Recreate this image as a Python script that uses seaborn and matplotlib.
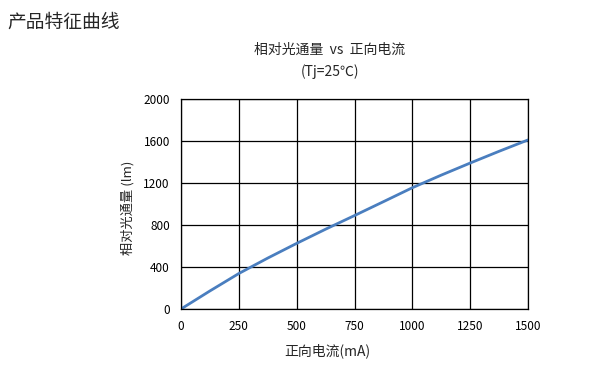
import matplotlib
matplotlib.use("Agg")
import matplotlib.pyplot as plt
import seaborn as sns
import pandas as pd

current_ma = [0, 125, 250, 375, 500, 625, 750, 875, 1000, 1125, 1250, 1375, 1500]
flux_lm = [0, 172, 338, 485, 625, 760, 890, 1022, 1155, 1275, 1390, 1502, 1610]
x_ticks = [0, 250, 500, 750, 1000, 1250, 1500]
y_ticks = [0, 400, 800, 1200, 1600, 2000]

sns.set_style("white")
plt.rcParams['font.family'] = ['Noto Sans CJK SC', 'DejaVu Sans']

df = pd.DataFrame({"current": current_ma, "flux": flux_lm})

fig = plt.figure(figsize=(6.07, 3.78), dpi=100)
ax = fig.add_axes([181/607, 1-309/378, 347/607, 210/378])
sns.lineplot(data=df, x="current", y="flux", ax=ax, color="#4A7EBF", linewidth=2.0)

ax.set_xlim(0, 1500)
ax.set_ylim(0, 2000)
ax.set_xticks(x_ticks)
ax.set_yticks(y_ticks)
ax.set_xticklabels([str(v) for v in x_ticks], fontsize=8.5)
ax.set_yticklabels([str(v) for v in y_ticks], fontsize=8.5)
ax.tick_params(length=0, pad=8, colors="black")
ax.grid(True, color="black", linewidth=0.9)
for s in ax.spines.values():
    s.set_color("black")
    s.set_linewidth(0.9)
ax.set_xlabel("")
ax.set_ylabel("")

fig.text(327/607, 1-351/378, "正向电流(mA)", fontsize=10, ha="center", va="center")
fig.text(128/607, 1-208/378, "相对光通量 (lm)", fontsize=9.5, ha="center", va="center", rotation=90)

fig.text(7/607, 1-22/378, "产品特征曲线", fontsize=13.5, ha="left", va="center")
fig.text(330/607, 1-50/378, "相对光通量  vs  正向电流", fontsize=10, ha="center", va="center")
fig.text(330/607, 1-72/378, "(Tj=25℃)", fontsize=10, ha="center", va="center")

fig.savefig("out.png", dpi=100)
